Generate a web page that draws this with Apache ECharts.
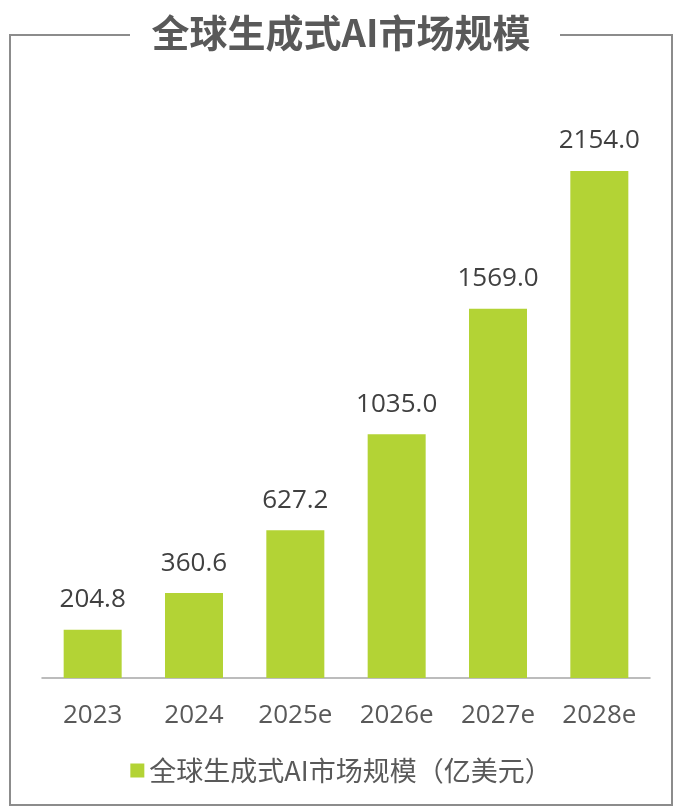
<!DOCTYPE html>
<html>
<head>
<meta charset="utf-8">
<script src="https://cdn.jsdelivr.net/npm/echarts@6/dist/echarts.min.js"></script>
<style>
  html, body { margin: 0; padding: 0; background: #fff; }
  #chart { width: 682px; height: 807px; }
</style>
</head>
<body>
<div id="chart"></div>
<script>
const title = '全球生成式AI市场规模';
const seriesName = '全球生成式AI市场规模（亿美元）';
const years = ['2023', '2024', '2025e', '2026e', '2027e', '2028e'];
const marketSize = [204.8, 360.6, 627.2, 1035.0, 1569.0, 2154.0];

const numFont = '"Open Sans", "Noto Sans CJK SC", sans-serif';
const cjkFont = '"Noto Sans CJK SC", "Open Sans", sans-serif';

const chart = echarts.init(document.getElementById('chart'));
chart.setOption({
  animation: false,
  title: {
    text: title,
    left: 'center',
    top: 9,
    textStyle: { fontFamily: cjkFont, fontSize: 38, fontWeight: 'bold', color: '#595959' }
  },
  graphic: [
    {
      type: 'polyline',
      shape: { points: [[130, 35], [10, 35], [10, 805], [672, 805], [672, 35], [560, 35]] },
      style: { stroke: '#8c8c8c', lineWidth: 2, fill: null }
    }
  ],
  legend: {
    bottom: 18,
    left: 'center',
    itemWidth: 14,
    itemHeight: 14,
    itemGap: 8,
    icon: 'rect',
    textStyle: { fontFamily: cjkFont, fontSize: 27, color: '#595959' },
    data: [seriesName]
  },
  grid: { left: 42, right: 32, top: 113, bottom: 129 },
  xAxis: {
    type: 'category',
    data: years,
    axisLine: { lineStyle: { color: '#a6a6a6', width: 1.5 } },
    axisTick: { show: false },
    axisLabel: { margin: 25, fontFamily: numFont, fontSize: 26, color: '#595959' }
  },
  yAxis: {
    type: 'value',
    min: 0,
    max: 2400,
    show: false,
    splitLine: { show: false }
  },
  series: [
    {
      name: seriesName,
      type: 'bar',
      data: marketSize,
      barWidth: 58,
      itemStyle: { color: '#b3d335' },
      label: {
        show: true,
        position: 'top',
        distance: 17,
        fontFamily: numFont,
        fontSize: 26,
        color: '#404040',
        formatter: p => p.value.toFixed(1)
      }
    }
  ]
});
</script>
</body>
</html>
